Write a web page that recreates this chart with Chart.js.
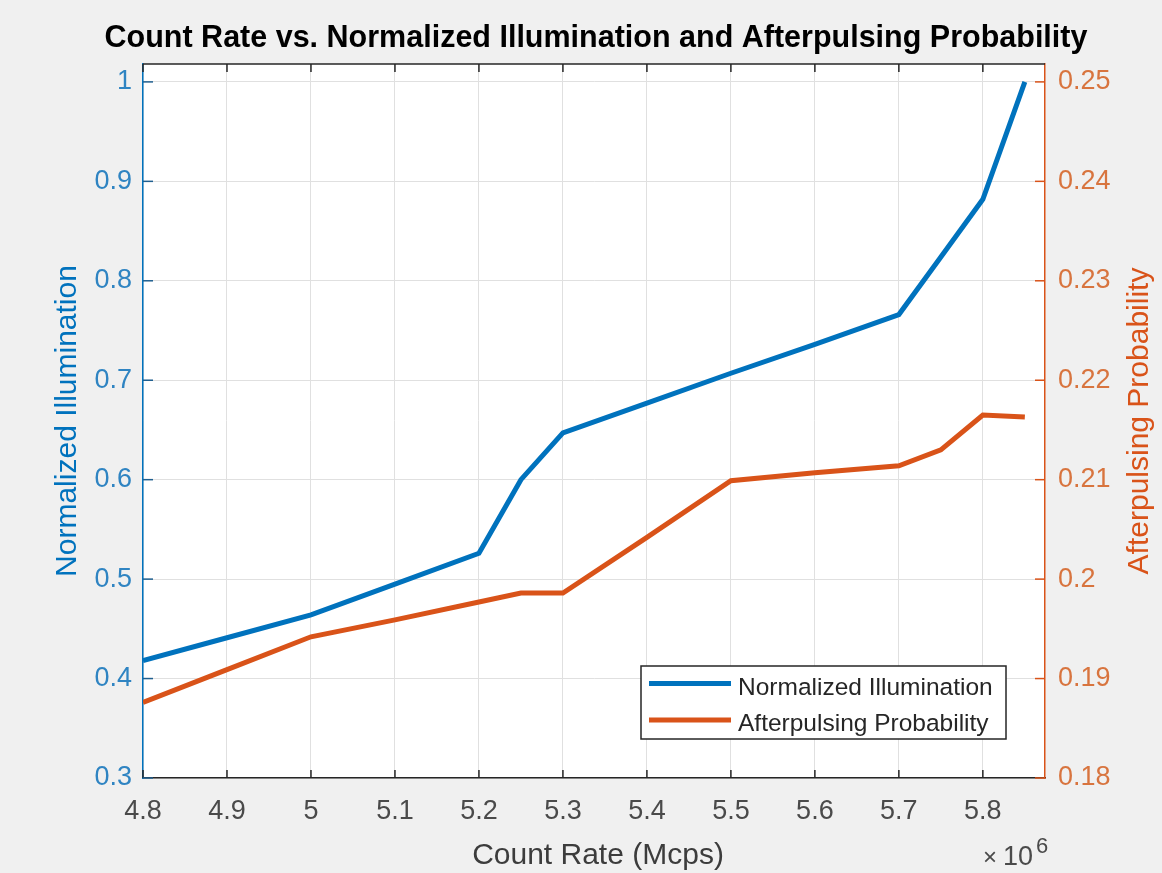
<!DOCTYPE html>
<html>
<head>
<meta charset="utf-8">
<title>Count Rate vs. Normalized Illumination and Afterpulsing Probability</title>
<script src="https://cdn.jsdelivr.net/npm/chart.js@4/dist/chart.umd.min.js"></script>
<style>
    html, body { margin: 0; padding: 0; background: #f0f0f0; }
    canvas { display: block; }
</style>
</head>
<body>
<canvas id="rateChart" width="1162" height="873"></canvas>
<script>
// count rate in units of 10^6 counts per second
var countRate = [4.8, 4.9, 5.0, 5.1, 5.2, 5.25, 5.3, 5.4, 5.5, 5.6, 5.7, 5.75, 5.8, 5.85];
var illumination = [0.418, 0.441, 0.464, 0.495, 0.526, 0.600, 0.647, 0.677, 0.707, 0.736, 0.766, 0.824, 0.882, 1.0];
var afterpulsing = [0.1876, 0.1909, 0.1942, 0.1959, 0.1977, 0.1986, 0.1986, 0.2042, 0.2099, 0.2107, 0.2114, 0.2130, 0.2165, 0.2163];
var seriesNames = ['Normalized Illumination', 'Afterpulsing Probability'];

(function () {
    var BLUE = 'rgb(0,114,189)',
        ORANGE = 'rgb(217,83,25)',
        DARK = '#262626',
        GRID = '#e0e0e0',
        FONT = '"Liberation Sans", Arial, Helvetica, sans-serif';

    function points(ys) {
        return countRate.map(function (x, i) {
            return { x: x, y: ys[i] };
        });
    }

    function trimNum(v, digits) {
        return String(parseFloat(v.toFixed(digits)));
    }

    // MATLAB-like frame: grey figure, white axes, inward ticks, titles, legend
    var matlabLook = {
        id: 'matlabLook',
        beforeDraw: function (chart) {
            var ctx = chart.ctx, a = chart.chartArea;
            ctx.save();
            ctx.fillStyle = '#f0f0f0';
            ctx.fillRect(0, 0, chart.width, chart.height);
            ctx.fillStyle = '#ffffff';
            ctx.fillRect(a.left, a.top, a.right - a.left, a.bottom - a.top);
            ctx.restore();
        },
        afterDraw: function (chart) {
            var ctx = chart.ctx, a = chart.chartArea,
                xs = chart.scales.x, yl = chart.scales.yLeft, yr = chart.scales.yRight;
            ctx.save();

            // top border
            ctx.strokeStyle = DARK;
            ctx.lineWidth = 1.5;
            ctx.beginPath();
            ctx.moveTo(a.left, a.top);
            ctx.lineTo(a.right, a.top);
            ctx.stroke();

            // inward tick marks
            ctx.lineWidth = 1.5;
            xs.ticks.forEach(function (t) {
                var px = xs.getPixelForValue(t.value);
                ctx.beginPath();
                ctx.moveTo(px, a.bottom); ctx.lineTo(px, a.bottom - 8);
                ctx.moveTo(px, a.top); ctx.lineTo(px, a.top + 8);
                ctx.stroke();
            });
            ctx.strokeStyle = '#1f5f8f';
            yl.ticks.forEach(function (t) {
                var py = yl.getPixelForValue(t.value);
                ctx.beginPath();
                ctx.moveTo(a.left, py); ctx.lineTo(a.left + 10, py);
                ctx.stroke();
            });
            ctx.strokeStyle = ORANGE;
            yr.ticks.forEach(function (t) {
                var py = yr.getPixelForValue(t.value);
                ctx.beginPath();
                ctx.moveTo(a.right, py); ctx.lineTo(a.right - 10, py);
                ctx.stroke();
            });

            // chart title
            var cx = (a.left + a.right) / 2;
            ctx.fillStyle = '#000';
            ctx.textAlign = 'center';
            ctx.textBaseline = 'alphabetic';
            ctx.font = 'bold 30.5px ' + FONT;
            ctx.fillText('Count Rate vs. Normalized Illumination and Afterpulsing Probability', cx + 2, 47);

            // axis titles
            ctx.font = '30px ' + FONT;
            ctx.fillStyle = '#3c3c3c';
            ctx.fillText('Count Rate (Mcps)', cx + 4, 864);

            var midY = (a.top + a.bottom) / 2;
            ctx.save();
            ctx.translate(76, midY);
            ctx.rotate(-Math.PI / 2);
            ctx.fillStyle = BLUE;
            ctx.fillText('Normalized Illumination', 0, 0);
            ctx.restore();

            ctx.save();
            ctx.translate(1148, midY);
            ctx.rotate(-Math.PI / 2);
            ctx.fillStyle = ORANGE;
            ctx.fillText('Afterpulsing Probability', 0, 0);
            ctx.restore();

            // x10^6 exponent
            ctx.fillStyle = '#4a4a4a';
            ctx.textAlign = 'left';
            ctx.font = '24px ' + FONT;
            ctx.fillText('\u00d7', a.right - 62, 865);
            ctx.font = '27px ' + FONT;
            ctx.fillText('10', a.right - 42, 865);
            ctx.font = '22px ' + FONT;
            ctx.fillText('6', a.right - 9, 853);

            // legend box
            var lx = a.right - 404, ly = a.bottom - 112, lw = 365, lh = 73;
            ctx.fillStyle = '#ffffff';
            ctx.fillRect(lx, ly, lw, lh);
            ctx.strokeStyle = DARK;
            ctx.lineWidth = 1.5;
            ctx.strokeRect(lx, ly, lw, lh);
            ctx.font = '24.5px ' + FONT;
            chart.data.datasets.forEach(function (ds, i) {
                var rowY = ly + 17.5 + i * 36.5;
                ctx.strokeStyle = ds.borderColor;
                ctx.lineWidth = 5;
                ctx.beginPath();
                ctx.moveTo(lx + 8, rowY);
                ctx.lineTo(lx + 90, rowY);
                ctx.stroke();
                ctx.fillStyle = DARK;
                ctx.fillText(ds.label, lx + 97, rowY + 11);
            });

            ctx.restore();
        }
    };

    var ctx = document.getElementById('rateChart').getContext('2d');
    new Chart(ctx, {
        type: 'line',
        data: {
            datasets: [
                {
                    label: seriesNames[0],
                    data: points(illumination),
                    yAxisID: 'yLeft',
                    borderColor: BLUE,
                    backgroundColor: BLUE,
                    borderWidth: 5,
                    pointRadius: 0,
                    tension: 0,
                    fill: false
                },
                {
                    label: seriesNames[1],
                    data: points(afterpulsing),
                    yAxisID: 'yRight',
                    borderColor: ORANGE,
                    backgroundColor: ORANGE,
                    borderWidth: 5,
                    pointRadius: 0,
                    tension: 0,
                    fill: false
                }
            ]
        },
        options: {
            responsive: false,
            animation: false,
            devicePixelRatio: 1,
            layout: { padding: { top: 64, left: 0, right: 0, bottom: 0 } },
            plugins: {
                legend: { display: false },
                title: { display: false },
                tooltip: { enabled: false }
            },
            scales: {
                x: {
                    type: 'linear',
                    position: 'bottom',
                    min: 4.8,
                    max: 5.874,
                    afterFit: function (scale) { scale.height = 95; },
                    grid: { color: GRID, drawTicks: false, lineWidth: 1 },
                    border: { color: DARK, width: 1.5 },
                    ticks: {
                        stepSize: 0.1,
                        maxTicksLimit: 30,
                        includeBounds: false,
                        padding: 17,
                        maxRotation: 0,
                        autoSkip: false,
                        color: '#4a4a4a',
                        font: { family: FONT, size: 27 },
                        callback: function (v) { return trimNum(v, 2); }
                    }
                },
                yLeft: {
                    type: 'linear',
                    position: 'left',
                    min: 0.3,
                    max: 1.018,
                    afterFit: function (scale) { scale.width = 143; },
                    grid: { color: GRID, drawTicks: false, lineWidth: 1 },
                    border: { color: BLUE, width: 1.5 },
                    ticks: {
                        stepSize: 0.1,
                        maxTicksLimit: 30,
                        includeBounds: false,
                        padding: 11,
                        color: '#2f84c2',
                        font: { family: FONT, size: 27 },
                        callback: function (v) { return trimNum(v, 2); }
                    }
                },
                yRight: {
                    type: 'linear',
                    position: 'right',
                    min: 0.18,
                    max: 0.2518,
                    afterFit: function (scale) { scale.width = 117; },
                    grid: { display: false, drawTicks: false },
                    border: { color: ORANGE, width: 1.5 },
                    ticks: {
                        stepSize: 0.01,
                        maxTicksLimit: 30,
                        includeBounds: false,
                        padding: 13,
                        color: '#d8743e',
                        font: { family: FONT, size: 27 },
                        callback: function (v) { return trimNum(v, 3); }
                    }
                }
            }
        },
        plugins: [matlabLook]
    });
})();
</script>
</body>
</html>
